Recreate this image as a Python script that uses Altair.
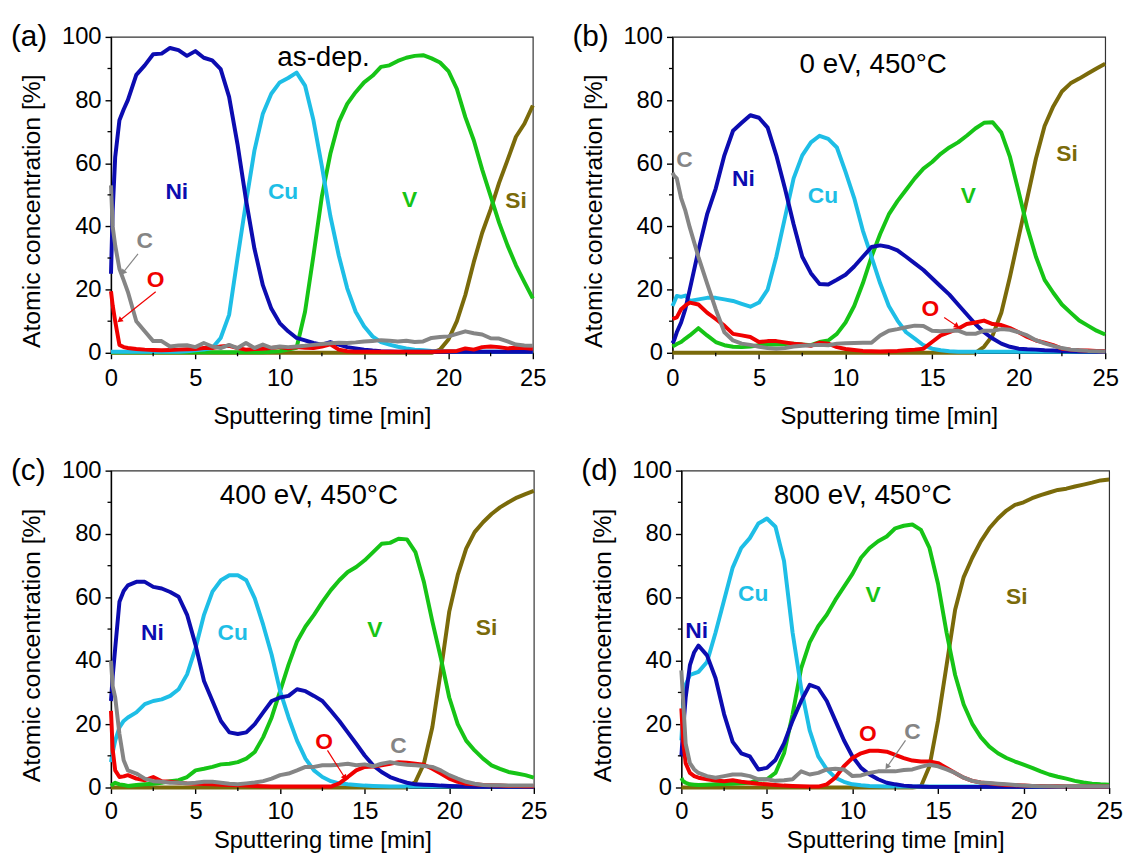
import math
import altair as alt
import pandas as pd

FONT = "Liberation Sans"

# common sampling grid (min)
T = [0, 0.1, 0.25, 0.5, 0.75, 1, 1.5, 2, 2.5, 3, 3.5, 4, 4.5, 5, 5.5, 6, 6.5, 7, 7.5, 8,
     8.5, 9, 9.5, 10, 10.5, 11, 11.5, 12, 12.5, 13, 13.5, 14, 14.5, 15, 15.5, 16, 16.5, 17,
     17.5, 18, 18.5, 19, 19.5, 20, 20.5, 21, 21.5, 22, 22.5, 23, 23.5, 24, 24.5, 25]

X_MAJOR = [0, 5, 10, 15, 20, 25]
X_MINOR = [2.5, 7.5, 12.5, 17.5, 22.5]
Y_MAJOR = [0, 20, 40, 60, 80, 100]
Y_MINOR = [10, 30, 50, 70, 90]

ELS = ["Si", "V", "Cu", "Ni", "O", "C"]
COLS = ["#7A6A0A", "#16C416", "#1EBEE6", "#0C0CB0", "#F00000", "#858585"]

# ---------------- (a) as-dep. ----------------
NI_A = [25, 45, 62, 73.6, 77, 80, 88, 91, 94.5, 94.7, 96.5, 95.8, 94, 95.5, 93.4, 92.6, 89.8, 81, 66, 48.5,
        33, 21.4, 14, 9.4, 6.8, 4.7, 3.9, 3.1, 2.6, 3.4, 2.6, 1.8, 1.4, 1, 0.7, 0.5, 0.4, 0.3, 0.3, 0.3,
        0.3, 0.3, 0.3, 0.3, 0.3, 0.3, 0.3, 0.3, 0.3, 0.3, 0.3, 0.3, 0.3, 0.3]
CU_A = [0.3, 0.3, 0.3, 0.3, 0.3, 0.3, 0.3, 0.3, 0.3, 0.3, 0.3, 0.3, 0.5, 0.8, 1, 1.5, 4.7, 12, 30, 47.5,
        64, 75.7, 82, 85.6, 87, 88.7, 84.6, 73.6, 59, 43.3, 30.8, 20.4, 13, 8.4, 5.2, 3.4, 2.6, 1.9, 1.4, 1,
        0.8, 0.6, 0.5, 0.4, 0.3, 0.3, 0.3, 0.3, 0.3, 0.3, 0.3, 0.3, 0.3, 0.3]
V_A = [0.2, 0.2, 0.2, 0.2, 0.2, 0.2, 0.2, 0.2, 0.2, 0.2, 0.2, 0.2, 0.2, 0.2, 0.2, 0.2, 0.2, 0.2, 0.2, 0.2,
       0.2, 0.2, 0.3, 0.5, 1, 1.6, 13, 30.8, 49.6, 63, 73, 78.8, 82.5, 85.6, 87.7, 90.5, 91, 92.4, 93.4, 94,
       94.2, 93.2, 91.9, 89.2, 83.5, 74.6, 67.3, 58, 49.6, 41.2, 34, 27.7, 22.4, 17.2]
SI_A = [0, 0, 0, 0, 0, 0, 0, 0, 0, 0, 0, 0, 0, 0, 0, 0, 0, 0, 0, 0,
        0, 0, 0, 0, 0, 0, 0, 0, 0, 0, 0, 0, 0, 0, 0, 0, 0, 0, 0, 0,
        0, 0, 1, 4.2, 10, 18.3, 28.7, 38, 45.4, 53.8, 61, 68.4, 72.5, 78.3]
C_A = [53, 40, 34, 26.6, 23, 19.3, 10, 6.8, 3.7, 3.7, 2, 2.3, 2.4, 1.8, 3.1, 2, 1.5, 2.5, 1.5, 3.1,
       1.5, 2.6, 1.6, 2, 1.8, 2, 2.2, 2.5, 2.8, 3, 3.2, 3.1, 3.3, 3.6, 3.7, 4, 3.8, 3.6, 3.8, 3.4,
       3.6, 4.7, 5, 5.2, 6, 6.8, 6.2, 5.8, 4.6, 4.5, 3.6, 2.6, 2.3, 2.2]
O_A = [19.5, 15, 10, 2.5, 1.8, 1.5, 1.2, 1, 0.9, 0.8, 0.9, 1, 1.1, 1.2, 1.5, 1.5, 2, 2.2, 1.5, 1,
       1.2, 1.3, 1.5, 1.8, 1.4, 1.8, 1.6, 1.5, 2, 2.7, 1, 0.5, 0.3, 0.3, 0.3, 0.3, 0.3, 0.3, 0.3, 0.3,
       0.3, 0.3, 0.4, 0.5, 0.6, 1.4, 1, 1.8, 2, 1.8, 1.4, 1.6, 1.5, 1.3]

# ---------------- (b) 0 eV ----------------
NI_B = [3, 4, 6.5, 9.6, 14, 20, 32.4, 43.8, 52, 62.5, 70.3, 72.8, 75.2, 74.4, 71.3, 62.5, 52, 40.7, 30.4, 25.2,
        21.8, 21.6, 23.1, 24.7, 27.3, 30.4, 33.5, 34, 33.5, 32.4, 30.4, 28.3, 26.2, 23.6, 21, 18.4, 15.3, 12.2, 9.1, 6.5,
        4.5, 2.9, 1.9, 1.3, 1.1, 1, 0.8, 0.7, 0.6, 0.5, 0.4, 0.4, 0.3, 0.3]
CU_B = [14.8, 16, 18, 17.7, 18.1, 16.4, 16.9, 17.4, 17.4, 16.9, 16.4, 15.5, 14.6, 15.9, 20, 30.4, 42.8, 55.2, 62.5, 66.6,
        68.7, 67.7, 65, 57.3, 49, 38.7, 30.4, 22, 14.8, 10.2, 6.5, 4.5, 2.4, 1.3, 0.8, 0.5, 0.3, 0.3, 0.3, 0.3,
        0.3, 0.3, 0.3, 0.3, 0.3, 0.3, 0.3, 0.3, 0.3, 0.3, 0.3, 0.3, 0.3, 0.3]
V_B = [2, 2.3, 2.8, 3.4, 4.5, 5.5, 7.8, 5.5, 3.4, 2.4, 1.9, 1.8, 2, 2.4, 2.6, 2.6, 2.8, 2.9, 2.6, 2.4,
       3.4, 3.9, 6, 9.6, 14.8, 22, 30.4, 37.6, 43.8, 48, 51.6, 55.2, 58.3, 60.4, 63, 65, 66.6, 68.7, 71, 72.8,
       73, 69.7, 62, 51, 39.7, 30.4, 23.1, 19, 15.3, 12.7, 10.2, 8.6, 7, 5.8]
SI_B = [0, 0, 0, 0, 0, 0, 0, 0, 0, 0, 0, 0, 0, 0, 0, 0, 0, 0, 0, 0,
        0, 0, 0, 0, 0, 0, 0, 0, 0, 0, 0, 0, 0, 0, 0, 0, 0, 0, 0, 1.9,
        5.5, 12.7, 24.1, 36.6, 49, 61.5, 71.8, 78, 82.7, 85.3, 86.8, 88.4, 90, 91.5]
C_B = [57, 56, 55.2, 49, 44.9, 39.7, 30.4, 22, 13.8, 6.5, 3.9, 2.9, 2.5, 1.9, 1.5, 1.3, 1.5, 2, 2.2, 2.4,
       2.5, 2.4, 2.9, 3, 3.1, 3.2, 3.2, 5.5, 7, 7.5, 8.1, 8.6, 8.5, 7, 6.8, 7, 7, 6, 6, 7,
       7, 7.5, 7.3, 6.5, 5.5, 4, 3, 2.2, 1.5, 1, 0.8, 0.6, 0.5, 0.4]
O_B = [10.7, 10.9, 11.2, 13.8, 15, 15.9, 15.3, 12.7, 10.7, 8.6, 6, 5.5, 5, 3.4, 3.7, 3.7, 3.3, 2.9, 2.6, 2.2,
       3.2, 2.9, 1.8, 1.2, 0.9, 0.6, 0.5, 0.4, 0.5, 0.6, 0.8, 1, 1.3, 3.4, 5.5, 6.5, 7.6, 9.1, 9.6, 10.2,
       9.1, 8.8, 7.8, 6.5, 5, 3.9, 3.2, 2.4, 1.3, 1, 0.8, 0.7, 0.6, 0.5]

# ---------------- (c) 400 eV ----------------
NI_C = [27.3, 35, 44, 58.6, 62, 63.8, 64.9, 64.9, 63.3, 62.8, 61.7, 60.2, 54.5, 45, 33.6, 27.3, 21, 17.4, 16.9, 17.4,
        20, 23.7, 27.3, 28.4, 28.9, 31, 30.4, 28.9, 27.3, 24.2, 21, 17.4, 13.8, 10.1, 7, 4.9, 3.3, 2.3, 1.5, 1,
        0.9, 0.8, 0.6, 0.5, 0.4, 0.3, 0.2, 0.2, 0.2, 0.2, 0.2, 0.2, 0.2, 0.2]
CU_C = [8, 11, 14.8, 19, 21, 22.1, 23.7, 26.3, 27.3, 27.8, 28.9, 31, 35.7, 44, 54.5, 61.8, 65.4, 67, 67, 65.4,
        59.7, 51.3, 41.9, 30.4, 22.1, 14.8, 9.1, 5.4, 3.3, 2, 1.3, 1, 0.8, 0.6, 0.5, 0.4, 0.3, 0.3, 0.3, 0.3,
        0.3, 0.3, 0.3, 0.3, 0.3, 0.3, 0.3, 0.3, 0.3, 0.3, 0.3, 0.3, 0.3, 0.3]
V_C = [0.5, 1, 1.5, 1, 0.8, 0.5, 0.8, 1, 1.2, 1.5, 2, 2.3, 3.3, 5.4, 5.9, 6.5, 7.3, 7.5, 8, 9.1,
       11.2, 15.9, 22.1, 30.4, 38.8, 46.1, 50.8, 54.5, 58.6, 62.3, 65.4, 68, 69.6, 71.7, 74.3, 76.9, 77.2, 78.5, 78.3, 74.3,
       64.9, 52.4, 40.9, 28.4, 20, 14.8, 11.7, 9.1, 7, 5.9, 4.9, 4.4, 3.9, 3.1]
SI_C = [0, 0, 0, 0, 0, 0, 0, 0, 0, 0, 0, 0, 0, 0, 0, 0, 0, 0, 0, 0,
        0, 0, 0, 0, 0, 0, 0, 0, 0, 0, 0, 0, 0, 0, 0, 0, 0, 0, 0, 1.8,
        7.5, 19, 36.7, 55.5, 67, 75.4, 80.6, 83.7, 86.3, 88.4, 90, 91.5, 92.6, 93.6]
C_C = [40, 32, 28.4, 16.9, 8.6, 5.4, 4.4, 2.8, 2, 1.8, 1.5, 1.5, 1.3, 1.5, 1.8, 1.8, 1.5, 1.2, 1, 1.3,
       1.6, 2, 2.8, 3.9, 4.4, 5.4, 6.5, 6.5, 7, 7, 7.2, 7.5, 7, 7.3, 6.7, 7.5, 8, 7.5, 7.2, 7,
       6.8, 6.5, 5.4, 3.9, 2.8, 1.8, 1.2, 0.8, 0.7, 0.7, 0.6, 0.6, 0.6, 0.6]
O_C = [24.2, 12, 5.4, 3.3, 3.5, 3.9, 2.8, 2.3, 3.3, 2, 1.8, 1.5, 1.3, 1.2, 1.1, 1, 0.9, 0.8, 0.7, 0.6,
       0.5, 0.4, 0.3, 0.3, 0.3, 0.3, 0.3, 0.3, 0.3, 0.3, 1.3, 3.3, 5.4, 6.5, 6.6, 7, 7.5, 8, 7.8, 7.5,
       7.2, 5.9, 4.4, 2.8, 1.8, 1.2, 1, 0.8, 0.7, 0.6, 0.5, 0.5, 0.4, 0.4]

# ---------------- (d) 800 eV ----------------
NI_D = [9.8, 18, 28.3, 38.6, 42.7, 44.8, 41.7, 34.5, 23.1, 14.4, 10.8, 9.8, 5.7, 6.2, 8.7, 13.9, 21.1, 27.3, 32.4, 31.4,
        27.3, 21.1, 14.9, 9.8, 6.2, 4.1, 2.6, 1.5, 1, 0.6, 0.4, 0.3, 0.2, 0.2, 0.2, 0.2, 0.2, 0.2, 0.2, 0.2,
        0.2, 0.2, 0.2, 0.2, 0.2, 0.2, 0.2, 0.2, 0.2, 0.2, 0.2, 0.2, 0.2, 0.2]
CU_D = [14.9, 25, 32.4, 35.5, 36, 36.5, 39.6, 48.9, 59.2, 69.4, 75.6, 78.7, 83.3, 84.9, 82.3, 71.5, 48.9, 31.4, 18, 9.8,
        5.7, 3.1, 1.8, 1, 0.7, 0.5, 0.4, 0.3, 0.3, 0.3, 0.3, 0.3, 0.3, 0.3, 0.3, 0.3, 0.3, 0.3, 0.3, 0.3,
        0.3, 0.3, 0.3, 0.3, 0.3, 0.3, 0.3, 0.3, 0.3, 0.3, 0.3, 0.3, 0.3, 0.3]
V_D = [3, 2, 1.5, 1, 0.9, 0.8, 0.9, 1, 1.1, 1.2, 1.3, 1.5, 2.5, 2.6, 4.6, 10.8, 23.1, 37.6, 45.8, 50.9,
       54.5, 59.2, 63.3, 67.4, 72.5, 75.6, 77.7, 79.2, 81.8, 82.6, 83, 81.3, 75.6, 64.3, 48.9, 35.5, 26.2, 20.1, 15.9, 12.9,
       10.8, 9.3, 8.2, 7.2, 6.2, 5.1, 4.1, 3.4, 2.8, 2.1, 1.6, 1.2, 1, 0.9]
SI_D = [0, 0, 0, 0, 0, 0, 0, 0, 0, 0, 0, 0, 0, 0, 0, 0, 0, 0, 0, 0,
        0, 0, 0, 0, 0, 0, 0, 0, 0, 0, 0, 0.3, 6.7, 21.1, 38.6, 56.1, 66.4, 72.5, 77.7, 81.8,
        84.9, 87.4, 89.2, 90, 91.3, 92.3, 93.1, 93.9, 94.3, 95, 95.6, 96.2, 96.9, 97.2]
C_D = [37, 28, 13.9, 7.7, 5.7, 4.6, 3.6, 3.1, 3.6, 4.1, 4.1, 3.6, 2.6, 2.6, 2.1, 2.3, 2.6, 5.1, 4.1, 4.6,
       5.7, 5.9, 5.7, 3.6, 3.8, 4.6, 5.1, 5.1, 5.1, 5.5, 5.7, 6.5, 7.2, 6.7, 5.7, 4.6, 3.1, 2.1, 1.6, 1.4,
       1.2, 1, 0.8, 0.6, 0.5, 0.4, 0.4, 0.3, 0.3, 0.3, 0.3, 0.3, 0.3, 0.3]
O_D = [25, 15, 7.7, 4.6, 3.6, 3.1, 2.6, 2.2, 2, 2.3, 1.8, 1.5, 1.2, 1, 0.8, 0.6, 0.5, 0.4, 0.3, 0.3,
       1, 3.1, 6.7, 9.3, 10.8, 11.6, 11.6, 11.3, 10.3, 9.3, 8.5, 8.2, 8.2, 7.7, 6.2, 4.6, 3.1, 2.1, 1.6, 1.3,
       1, 0.8, 0.7, 0.6, 0.5, 0.5, 0.4, 0.4, 0.3, 0.3, 0.3, 0.3, 0.3, 0.3]

# element labels: (text, time, value)
LAB_A = [("Ni", 3.9, 51), ("Cu", 10.2, 50.8), ("V", 17.7, 48.5), ("Si", 24.0, 48), ("C", 2.0, 35.5), ("O", 2.65, 23)]
LAB_B = [("C", 0.7, 61), ("Ni", 4.1, 55), ("Cu", 8.7, 49.5), ("V", 17.1, 49.5), ("Si", 22.8, 63), ("O", 14.9, 13.8)]
LAB_C = [("Ni", 2.45, 48.7), ("Cu", 7.2, 48.7), ("V", 15.6, 49.8), ("Si", 22.2, 50.3), ("O", 12.6, 14.3), ("C", 17.0, 13.2)]
LAB_D = [("Cu", 4.2, 61.2), ("V", 11.2, 60.7), ("Si", 19.6, 60.2), ("Ni", 0.9, 49.4), ("O", 10.9, 16.8), ("C", 13.5, 17.5)]

# condition captions: (text, time, value)
COND_A = ("as-dep.", 12.6, 93.2)
COND_B = ("0 eV, 450°C", 11.6, 91)
COND_C = ("400 eV, 450°C", 11.7, 92)
COND_D = ("800 eV, 450°C", 10.6, 92)

# arrows: (t_start, v_start, t_end, v_end, element)
ARR_A = [(1.6, 31.3, 0.75, 25.6, "C"), (2.65, 19.3, 0.55, 10.4, "O")]
ARR_B = [(15.7, 11.2, 16.4, 8.6, "O")]
ARR_C = [(12.8, 11.7, 13.8, 3.3, "O")]
ARR_D = [(13.1, 14.9, 12.05, 6.7, "C")]

DRAW_ORDER = ["Si", "V", "Cu", "Ni", "O", "C"]

COLOR = alt.Color("el:N", scale=alt.Scale(domain=ELS, range=COLS), legend=None)


def panel(tag, series, w, h, cond, labs, arrows, lab_pad, title_pad):
    rows = []
    for el in DRAW_ORDER:
        vals = series[el]
        assert len(vals) == len(T), (tag, el, len(vals))
        for t, v in zip(T, vals):
            rows.append({"t": t, "v": v, "el": el})
    df = pd.DataFrame(rows)

    xs = alt.Scale(domain=[0, 25], nice=False, zero=False)
    ys = alt.Scale(domain=[0, 100], nice=False)
    xaxis = alt.Axis(values=X_MAJOR, title="Sputtering time [min]", labelFlush=False,
                     labelPadding=lab_pad, titlePadding=title_pad, tickSize=6, labelOverlap=False,
                     titleFontSize=24)
    yaxis = alt.Axis(values=Y_MAJOR, title="Atomic concentration [%]", labelPadding=4,
                     titlePadding=17, tickSize=6, titleFontSize=25, titleY=h / 2 + 16)

    lines = alt.Chart(df).mark_line(strokeWidth=4, strokeJoin="round").encode(
        x=alt.X("t:Q", scale=xs, axis=xaxis),
        y=alt.Y("v:Q", scale=ys, axis=yaxis),
        color=COLOR,
    )
    ymin = alt.Chart(pd.DataFrame({"v": Y_MINOR})).mark_rule(color="black", strokeWidth=1.3).encode(
        y=alt.Y("v:Q"), x=alt.value(-3.5), x2=alt.value(0))
    xmin = alt.Chart(pd.DataFrame({"t": X_MINOR})).mark_rule(color="black", strokeWidth=1.3).encode(
        x=alt.X("t:Q"), y=alt.value(h), y2=alt.value(h + 3.5))

    ldf = pd.DataFrame([{"text": a, "t": b, "v": c, "el": a} for a, b, c in labs])
    labels = alt.Chart(ldf).mark_text(font=FONT, fontSize=23, fontWeight="bold").encode(
        x="t:Q", y="v:Q", text="text:N", color=COLOR)

    cdf = pd.DataFrame([{"text": cond[0], "t": cond[1], "v": cond[2]}])
    ctext = alt.Chart(cdf).mark_text(font=FONT, fontSize=28, color="black").encode(
        x="t:Q", y="v:Q", text="text:N")

    tdf = pd.DataFrame([{"s": tag}])
    tagtext = alt.Chart(tdf).mark_text(font=FONT, fontSize=30, color="black", align="left",
                                       baseline="middle").encode(
        x=alt.value(-101), y=alt.value(0), text="s:N")

    arows = []
    for t1, v1, t2, v2, el in arrows:
        dx = (t2 - t1) * w / 25.0
        dy = -(v2 - v1) * h / 100.0
        ang = math.degrees(math.atan2(dx, -dy)) % 360
        arows.append({"t1": t1, "v1": v1, "t2": t2, "v2": v2, "el": el, "ang": ang})
    adf = pd.DataFrame(arows)
    shafts = alt.Chart(adf).mark_rule(strokeWidth=1.2).encode(
        x="t1:Q", y="v1:Q", x2="t2:Q", y2="v2:Q", color=COLOR)
    heads = alt.Chart(adf).mark_point(shape="triangle", filled=True, size=40, opacity=1).encode(
        x="t2:Q", y="v2:Q", angle=alt.Angle("ang:Q", scale=None), color=COLOR)

    return alt.layer(lines, ymin, xmin, shafts, heads, labels, ctext, tagtext).properties(
        width=w, height=h)


pa = panel("(a)", {"Ni": NI_A, "Cu": CU_A, "V": V_A, "Si": SI_A, "C": C_A, "O": O_A},
           426, 319, COND_A, LAB_A, ARR_A, 8, 14)
pb = panel("(b)", {"Ni": NI_B, "Cu": CU_B, "V": V_B, "Si": SI_B, "C": C_B, "O": O_B},
           437, 319, COND_B, LAB_B, ARR_B, 8, 14)
pc = panel("(c)", {"Ni": NI_C, "Cu": CU_C, "V": V_C, "Si": SI_C, "C": C_C, "O": O_C},
           427, 320, COND_C, LAB_C, ARR_C, 6, 6)
pd_ = panel("(d)", {"Ni": NI_D, "Cu": CU_D, "V": V_D, "Si": SI_D, "C": C_D, "O": O_D},
            432, 320, COND_D, LAB_D, ARR_D, 6, 6)

chart = alt.vconcat(
    alt.hconcat(pa, pb, spacing=25),
    alt.hconcat(pc, pd_, spacing=33),
    spacing=26,
).properties(
    padding={"left": 2, "top": 9, "right": 0, "bottom": 0}
).configure(
    font=FONT
).configure_view(
    stroke="#333333", strokeWidth=1.2
).configure_axis(
    domainColor="black", domainWidth=1.4, tickColor="black", tickWidth=1.4,
    labelFont=FONT, labelFontSize=24, labelColor="black",
    titleFont=FONT, titleFontWeight="normal", titleColor="black",
    grid=False,
)

chart.save("out.html", embed_options={"renderer": "svg", "actions": False})
